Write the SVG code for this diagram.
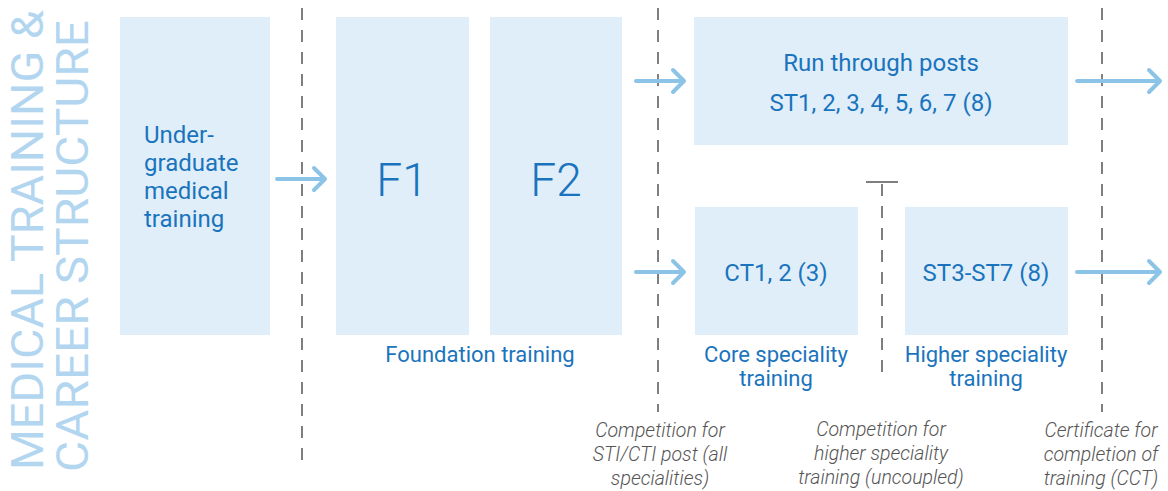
<svg xmlns="http://www.w3.org/2000/svg" width="1168" height="491" viewBox="0 0 1168 491">
<style>
.box{fill:#e0eef9}
.t{font-family:Roboto,"Liberation Sans",sans-serif;fill:#1a74bd;font-size:24px}
.c{text-anchor:middle}
.lbl{font-size:22px}
.big{font-size:46px;font-weight:300}
.note{font-family:Roboto,"Liberation Sans",sans-serif;fill:#555;font-size:19.5px;font-style:italic;font-weight:300;text-anchor:middle}
.dash{stroke:#555;stroke-width:1.5;stroke-dasharray:12,10;fill:none}
.arr{stroke:#8cc4e8;stroke-width:4;fill:none;stroke-linecap:round;stroke-linejoin:round}
.title{font-family:Roboto,"Liberation Sans",sans-serif;fill:#b3d6f0;font-size:45px}
</style>
<rect width="1168" height="491" fill="#fff"/>
<g id="title">
<text class="title" transform="translate(43,470) rotate(-90)" textLength="460" lengthAdjust="spacingAndGlyphs">MEDICAL TRAINING &amp;</text>
<text class="title" transform="translate(88,472) rotate(-90)" textLength="452" lengthAdjust="spacingAndGlyphs">CAREER STRUCTURE</text>
</g>
<g id="connectors">
<line class="dash" x1="302" y1="8" x2="302" y2="462"/>
<line class="dash" x1="658" y1="8" x2="658" y2="412"/>
<line class="dash" x1="1102" y1="8" x2="1102" y2="412"/>
<line class="dash" x1="882" y1="184" x2="882" y2="378"/>
<line x1="866" y1="182" x2="898" y2="182" stroke="#555" stroke-width="1.5"/>
<path class="arr" d="M277 179H325M314 168L325 179L314 190"/>
<path class="arr" d="M636 81H684M673 70L684 81L673 92"/>
<path class="arr" d="M636 272H684M673 261L684 272L673 283"/>
<path class="arr" d="M1077 81H1160M1149 70L1160 81L1149 92"/>
<path class="arr" d="M1077 272H1160M1149 261L1160 272L1149 283"/>
</g>
<g id="undergrad">
<rect class="box" x="120" y="17" width="150" height="318"/>
<text class="t" x="144" y="143">Under-</text>
<text class="t" x="144" y="171">graduate</text>
<text class="t" x="144" y="199">medical</text>
<text class="t" x="144" y="227">training</text>
</g>
<g id="f1">
<rect class="box" x="336" y="17" width="133" height="318"/>
<text class="t c big" x="402" y="196">F1</text>
</g>
<g id="f2">
<rect class="box" x="490" y="17" width="132" height="318"/>
<text class="t c big" x="556" y="196">F2</text>
</g>
<g id="foundation-label">
<text class="t c lbl" x="480" y="362">Foundation training</text>
</g>
<g id="runthrough">
<rect class="box" x="694" y="17" width="374" height="128"/>
<text class="t c" x="881" y="71">Run through posts</text>
<text class="t c" x="881" y="111">ST1, 2, 3, 4, 5, 6, 7 (8)</text>
</g>
<g id="core">
<rect class="box" x="695" y="207" width="163" height="128"/>
<text class="t c" x="776" y="281">CT1, 2 (3)</text>
<text class="t c lbl" x="776" y="362">Core speciality</text>
<text class="t c lbl" x="776" y="386">training</text>
</g>
<g id="higher">
<rect class="box" x="905" y="207" width="163" height="128"/>
<text class="t c" x="986" y="281">ST3-ST7 (8)</text>
<text class="t c lbl" x="986" y="362">Higher speciality</text>
<text class="t c lbl" x="986" y="386">training</text>
</g>
<g id="notes">
<text class="note" x="660" y="437">Competition for</text>
<text class="note" x="660" y="461">STI/CTI post (all</text>
<text class="note" x="660" y="485">specialities)</text>
<text class="note" x="881" y="436">Competition for</text>
<text class="note" x="881" y="460">higher speciality</text>
<text class="note" x="881" y="484">training (uncoupled)</text>
<text class="note" x="1101" y="437">Certificate for</text>
<text class="note" x="1101" y="461">completion of</text>
<text class="note" x="1101" y="485">training (CCT)</text>
</g>
</svg>
